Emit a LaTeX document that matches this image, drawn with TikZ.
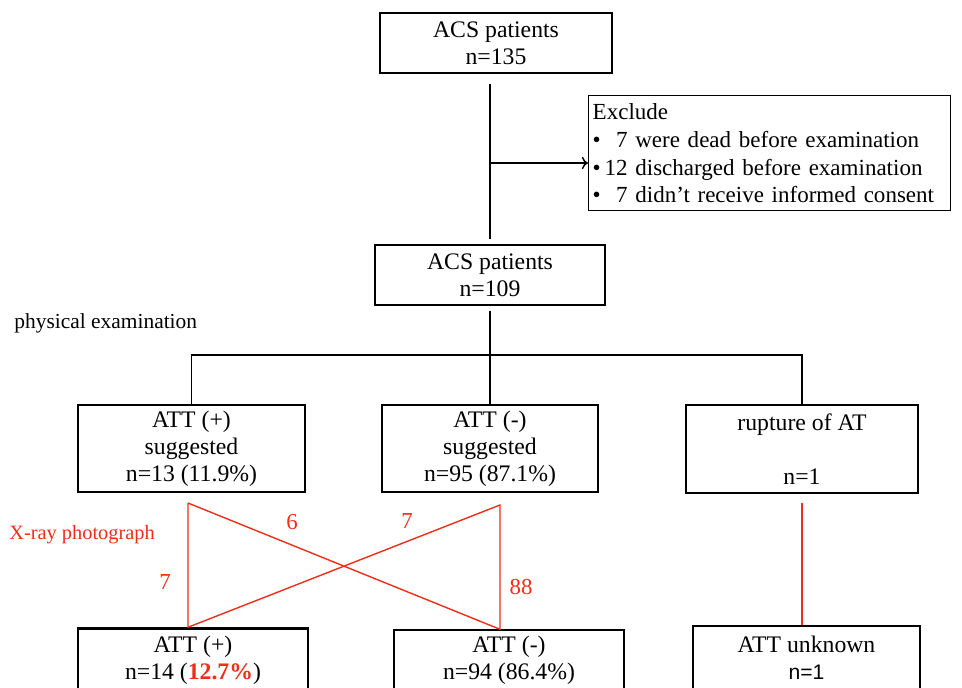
\documentclass[tikz,border=0pt]{standalone}
\usepackage{fontspec}
\usetikzlibrary{arrows.meta}
\setmainfont{Liberation Serif}
\newfontfamily\arialfont{Liberation Sans}
\definecolor{xred}{RGB}{240,45,25}
\begin{document}
\begin{tikzpicture}[x=0.02cm, y=-0.02cm,
        box/.style={draw, line width=0.8pt, align=center, inner sep=0pt,
            font=\fontsize{13.5}{15.4}\selectfont},
        link/.style={line width=0.8pt},
        xray/.style={draw=xred, line width=0.8pt},
        num/.style={text=xred, inner sep=0pt, font=\fontsize{13}{15}\selectfont}]
        \useasboundingbox (0,0) rectangle (962,688);
        \clip (0,0) rectangle (962,688);
        \node[box, minimum width=4.64cm, minimum height=1.2cm] (all) at (496,43) {ACS patients\\n=135};
        \node[box, anchor=north west, minimum width=7.24cm, minimum height=2.3cm, text width=7.08cm, align=left,
            font=\fontsize{13.1}{15.9}\selectfont] (excl) at (588,95)
            {\mbox{Exclude}\\
             \mbox{\textbullet\makebox[1.17em][r]{7}\ were dead before examination}\\
             \mbox{\textbullet\makebox[1.17em][r]{12}\ discharged before examination}\\
             \mbox{\textbullet\makebox[1.17em][r]{7}\ didn’t receive informed consent}};
        \node[box, minimum width=4.6cm, minimum height=1.2cm] (sel) at (490,275) {ACS patients\\n=109};
        \node[anchor=west, inner sep=0pt, font=\fontsize{12.2}{14}\selectfont] (pe) at (14,323) {physical examination};
        \node[box, minimum width=4.54cm, minimum height=1.74cm] (attp) at (191.5,448.5) {ATT (+)\\suggested\\n=13 (11.9\%)};
        \node[box, minimum width=4.32cm, minimum height=1.74cm] (attm) at (490,448.5) {ATT (-)\\suggested\\n=95 (87.1\%)};
        \node[box, minimum width=4.64cm, minimum height=1.76cm] (rup) at (802,449) {rupture of AT\\~\\n=1};
        \node[box, line width=1.4pt, minimum width=4.6cm, minimum height=1.26cm] (xp) at (193,660)
            {ATT (+)\\n=14 (\textcolor{xred}{\textbf{12.7\%}})};
        \node[box, minimum width=4.6cm, minimum height=1.2cm] (xm) at (509,660) {ATT (-)\\n=94 (86.4\%)};
        \node[box, minimum width=4.54cm, minimum height=1.28cm] (xu) at (806.5,658)
            {ATT unknown\\{\arialfont\fontsize{12}{14}\selectfont n=1}};
        % flow lines
        \coordinate (split) at (490,163);
        \coordinate (brM) at (490,355);
        \draw[link] ([yshift=-0.2cm]all.south -| sel.north) -- ([yshift=0.1cm]sel.north);
        \draw[link, -{To[length=3.5pt, width=7pt]}] (split) -- (split -| excl.west);
        \draw[link] ([yshift=-0.1cm]sel.south) -- (brM);
        \draw[link] (attp.north) |- (brM) -| (rup.north);
        \draw[link] (brM) -- (attm.north);
        % x-ray cross
        \coordinate (tl) at (188,503);
        \coordinate (tr) at (500,505);
        \coordinate (bl) at (tl |- xp.north);
        \coordinate (br) at (tr |- xm.north);
        \draw[xray] (tl) -- (bl) -- (tr) -- (br) -- (tl);
        \draw[xray] ([yshift=-0.18cm]rup.south) -- (rup.south |- xu.north);
        \node[num, anchor=west, font=\fontsize{11.6}{14}\selectfont] (xlab) at (9,535) {X-ray photograph};
        \node[num] (c6) at (292,522) {6};
        \node[num] (c7a) at (407,521) {7};
        \node[num] (c7b) at (165,582) {7};
        \node[num] (c88) at (521,587) {88};
    \end{tikzpicture}
\end{document}
